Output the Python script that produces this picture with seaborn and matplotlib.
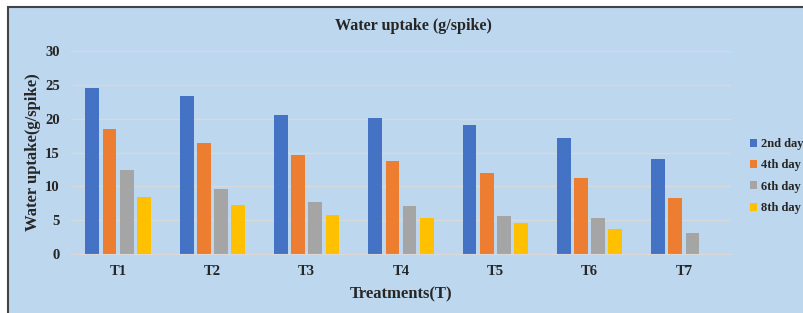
import pandas as pd
import matplotlib.pyplot as plt
import matplotlib.patches as mpatches
import seaborn as sns

# Data
treatments = ["T1", "T2", "T3", "T4", "T5", "T6", "T7"]
days = ["2nd day", "4th day", "6th day", "8th day"]
day2 = [24.6, 23.4, 20.6, 20.1, 19.0, 17.2, 14.1]
day4 = [18.5, 16.4, 14.6, 13.8, 11.9, 11.2, 8.3]
day6 = [12.4, 9.65, 7.7, 7.05, 5.6, 5.3, 3.15]
day8 = [8.4, 7.3, 5.7, 5.3, 4.6, 3.65, 0]
colors = ["#4472C4", "#ED7D31", "#A5A5A5", "#FFC000"]

df = pd.DataFrame({"Treatment": treatments * 4,
                   "Day": [d for d in days for _ in treatments],
                   "Uptake": day2 + day4 + day6 + day8})

sns.set_style("white")
plt.rcParams["font.family"] = ["Liberation Serif", "DejaVu Serif"]
plt.rcParams["font.weight"] = "bold"

fig = plt.figure(figsize=(8.04, 3.13), dpi=100)
fig.patch.set_facecolor("white")

# light blue chart area with dark border
bg = mpatches.Rectangle((8 / 804, -0.02), 1.0, 1 - 6.5 / 313 + 0.02, transform=fig.transFigure,
                        facecolor="#BDD7EE", edgecolor="#444444", linewidth=1.5, zorder=-5)
fig.patches.append(bg)

ax = fig.add_axes([71 / 804, 1 - 254 / 313, (731 - 71) / 804, (254 - 51) / 313])
ax.set_facecolor("none")

sns.barplot(data=df, x="Treatment", y="Uptake", hue="Day", palette=colors,
            width=0.73, gap=0.2, ax=ax, saturation=1, linewidth=0)

ax.set_ylim(0, 30)
ax.set_yticks(range(0, 31, 5))
ax.yaxis.grid(True, color="#D9D9D9", linewidth=1)
ax.set_axisbelow(True)
for s in ["top", "right", "left"]:
    ax.spines[s].set_visible(False)
ax.spines["bottom"].set_color("#D9D9D9")
ax.tick_params(length=0, labelsize=10.5)
ax.tick_params(axis="x", pad=8)
ax.tick_params(axis="y", pad=8)
for lab in ax.get_xticklabels() + ax.get_yticklabels():
    lab.set_fontweight("bold")

ax.set_xlabel("Treatments(T)", fontsize=12, fontweight="bold", labelpad=6)
ax.set_ylabel("Water uptake(g/spike)", fontsize=12, fontweight="bold", labelpad=3)
fig.text(413 / 804, 1 - 26 / 313, "Water uptake (g/spike)", ha="center", va="center",
         fontsize=11.6, fontweight="bold")

handles, labels = ax.get_legend_handles_labels()
ax.legend(handles, labels, loc="center left", bbox_to_anchor=(750 / 804, 1 - 176 / 313),
          bbox_transform=fig.transFigure, frameon=False, handlelength=0.6, handleheight=0.6,
          handletextpad=0.25, labelspacing=0.75, borderaxespad=0, borderpad=0,
          prop={"weight": "bold", "size": 9})

fig.savefig("out.png", dpi=100)
